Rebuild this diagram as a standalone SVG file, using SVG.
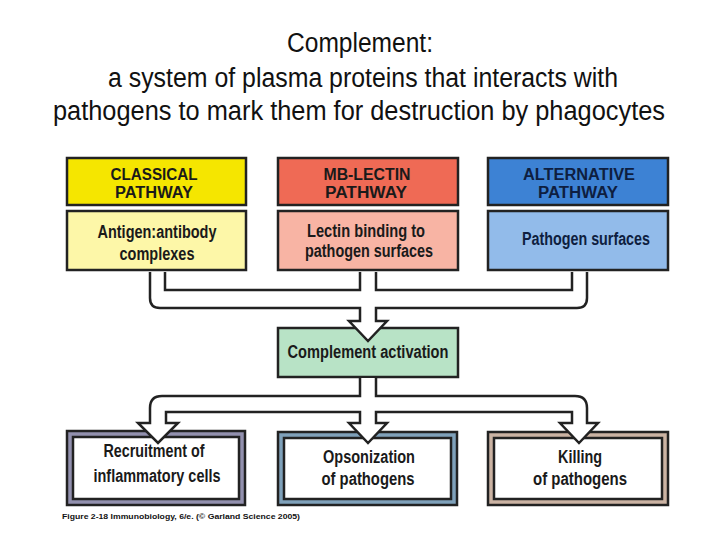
<svg xmlns="http://www.w3.org/2000/svg" width="720" height="540" viewBox="0 0 720 540">
<style>
.title{font-family:"Liberation Sans",Arial,sans-serif;font-size:27px;fill:#111;text-anchor:middle}
.hd{font-family:"Liberation Sans",Arial,sans-serif;font-size:16px;font-weight:bold;fill:#1a1a1a;text-anchor:middle}
.tx{font-family:"Liberation Sans",Arial,sans-serif;font-size:18px;font-weight:bold;fill:#1a1a1a;text-anchor:middle}
.box{stroke:#222;stroke-width:2.5}
.conn{fill:#fff;stroke:#222;stroke-width:2.5;stroke-linejoin:miter}
.connl{fill:none;stroke:#222;stroke-width:2.5}
.foot{font-family:"Liberation Sans",Arial,sans-serif;font-size:8px;font-weight:bold;fill:#111}
</style>
<rect width="720" height="540" fill="#fff"/>
<g id="title">
<text class="title" x="360" y="52" textLength="146" lengthAdjust="spacingAndGlyphs">Complement:</text>
<text class="title" x="363" y="87" textLength="510" lengthAdjust="spacingAndGlyphs">a system of plasma proteins that interacts with</text>
<text class="title" x="359" y="120" textLength="612" lengthAdjust="spacingAndGlyphs">pathogens to mark them for destruction by phagocytes</text>
</g>
<g id="classical">
<rect class="box" x="67" y="158" width="179" height="47" fill="#f5e600"/>
<text class="hd" x="154" y="180" textLength="87" lengthAdjust="spacingAndGlyphs">CLASSICAL</text>
<text class="hd" x="154" y="198" textLength="78" lengthAdjust="spacingAndGlyphs">PATHWAY</text>
<rect class="box" x="67" y="211" width="179" height="59" fill="#fdf7a8"/>
<text class="tx" x="157" y="238" textLength="119" lengthAdjust="spacingAndGlyphs">Antigen:antibody</text>
<text class="tx" x="157" y="260" textLength="75" lengthAdjust="spacingAndGlyphs">complexes</text>
</g>
<g id="mblectin">
<rect class="box" x="278" y="158" width="180" height="47" fill="#ef6a55"/>
<text class="hd" x="367" y="180" textLength="87" lengthAdjust="spacingAndGlyphs">MB-LECTIN</text>
<text class="hd" x="366" y="198" textLength="82" lengthAdjust="spacingAndGlyphs">PATHWAY</text>
<rect class="box" x="278" y="211" width="180" height="59" fill="#f8b4a4"/>
<text class="tx" x="366" y="237" textLength="118" lengthAdjust="spacingAndGlyphs">Lectin binding to</text>
<text class="tx" x="369" y="257" textLength="128" lengthAdjust="spacingAndGlyphs">pathogen surfaces</text>
</g>
<g id="alternative">
<rect class="box" x="488" y="158" width="180" height="47" fill="#3d82d4"/>
<text class="hd" x="579" y="180" textLength="112" lengthAdjust="spacingAndGlyphs" style="fill:#0e1e40">ALTERNATIVE</text>
<text class="hd" x="578" y="198" textLength="80" lengthAdjust="spacingAndGlyphs" style="fill:#0e1e40">PATHWAY</text>
<rect class="box" x="488" y="211" width="180" height="59" fill="#92bbea"/>
<text class="tx" x="586" y="245" textLength="128" lengthAdjust="spacingAndGlyphs" style="fill:#0e1e40">Pathogen surfaces</text>
</g>
<g id="activation">
<rect class="box" x="278" y="328" width="180" height="49" fill="#b8e3c6"/>
<text class="tx" x="368" y="358" textLength="161" lengthAdjust="spacingAndGlyphs">Complement activation</text>
</g>
<g id="recruitment">
<rect class="box" x="67" y="431" width="178" height="74" fill="#9290ae"/>
<rect class="box" x="73" y="437" width="166" height="62" fill="#fff"/>
<text class="tx" x="154" y="457" textLength="101" lengthAdjust="spacingAndGlyphs">Recruitment of</text>
<text class="tx" x="157" y="482" textLength="127" lengthAdjust="spacingAndGlyphs">inflammatory cells</text>
</g>
<g id="opsonization">
<rect class="box" x="278" y="432" width="179" height="73" fill="#7fa1ba"/>
<rect class="box" x="284" y="438" width="167" height="61" fill="#fff"/>
<text class="tx" x="369" y="463" textLength="92" lengthAdjust="spacingAndGlyphs">Opsonization</text>
<text class="tx" x="368" y="485" textLength="93" lengthAdjust="spacingAndGlyphs">of pathogens</text>
</g>
<g id="killing">
<rect class="box" x="488" y="432" width="180" height="73" fill="#cbb3a3"/>
<rect class="box" x="494" y="438" width="168" height="61" fill="#fff"/>
<text class="tx" x="580" y="463" textLength="44" lengthAdjust="spacingAndGlyphs">Killing</text>
<text class="tx" x="580" y="485" textLength="94" lengthAdjust="spacingAndGlyphs">of pathogens</text>
</g>
<g id="connectors">
<path class="conn" d="M150,272 V298 Q150,308 160,308 H360 V321 H349 L368,341 L387,321 H376 V308 H577 Q587,308 587,298 V272"/>
<path class="connl" d="M165,272 V290 H360 V272 M376,272 V290 H572 V272"/>
<path class="conn" d="M360,378 V396 H162 Q150,396 150,408 V423 H138 L158,443 L178,423 H166 V412 H360 V423 H349 L368,443 L387,423 H376 V412 H572 V423 H560 L579,443 L598,423 H587 V408 Q587,396 575,396 H376 V378"/>
</g>
<text class="foot" x="62" y="519" textLength="238" lengthAdjust="spacingAndGlyphs">Figure 2-18  Immunobiology, 6/e. (© Garland Science 2005)</text>
</svg>
